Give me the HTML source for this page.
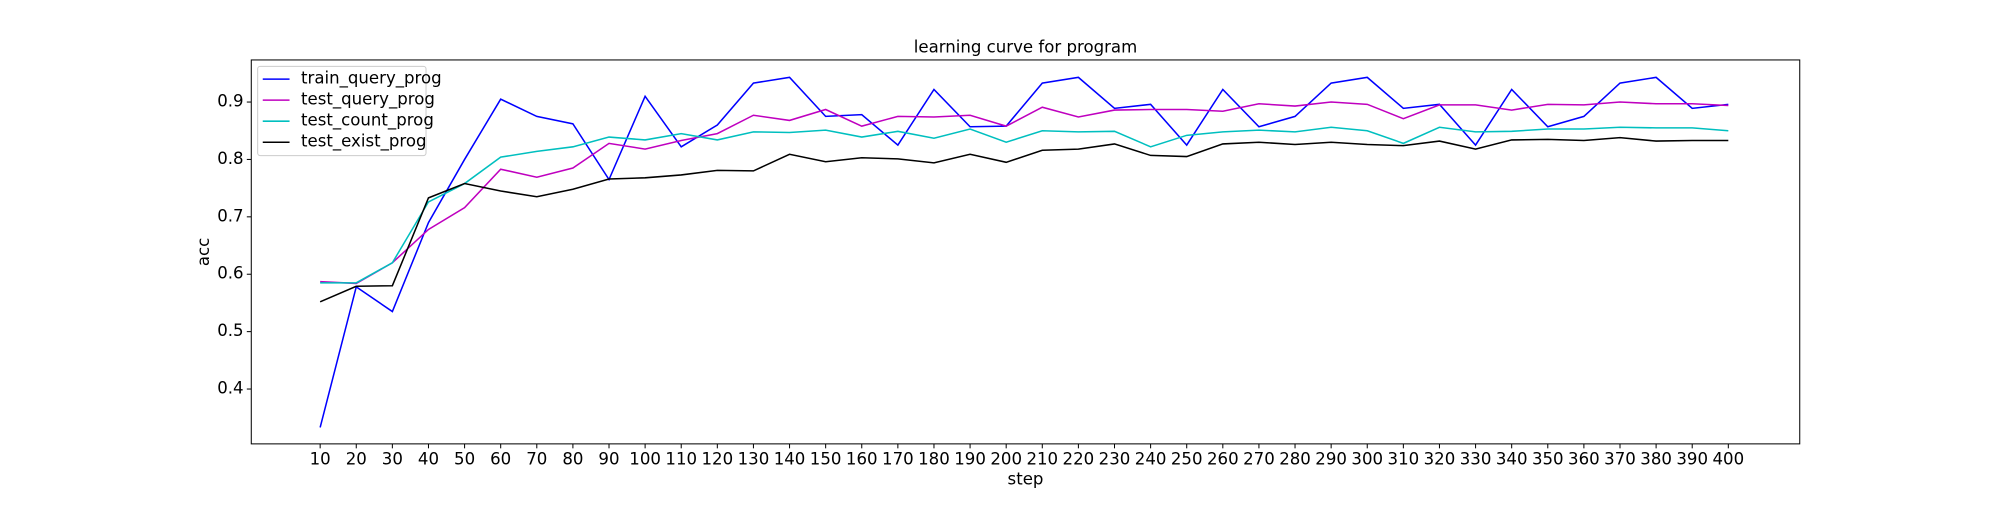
<!DOCTYPE html>
<html><head><meta charset="utf-8"><style>
body{margin:0;background:#fff;width:2000px;height:500px;overflow:hidden}
svg text{font-family:"DejaVu Sans","Liberation Sans",sans-serif;font-size:13px;fill:#000}
</style></head><body>
<svg id="chart" width="2000" height="500" viewBox="0 0 1568 392" preserveAspectRatio="none" xmlns="http://www.w3.org/2000/svg">
<rect width="1568" height="392" fill="#fff"/>
<g id="plot"></g>
</svg>
<script>
const steps=[10,20,30,40,50,60,70,80,90,100,110,120,130,140,150,160,170,180,190,200,210,220,230,240,250,260,270,280,290,300,310,320,330,340,350,360,370,380,390,400];
const trainQuery=[0.333,0.578,0.535,0.69,0.80,0.905,0.875,0.862,0.765,0.91,0.822,0.86,0.933,0.943,0.875,0.878,0.825,0.922,0.857,0.858,0.933,0.943,0.889,0.896,0.825,0.922,0.857,0.875,0.933,0.943,0.889,0.896,0.825,0.922,0.857,0.875,0.933,0.943,0.889,0.896];
const testQuery=[0.587,0.584,0.62,0.678,0.716,0.783,0.769,0.785,0.828,0.818,0.833,0.845,0.877,0.868,0.887,0.858,0.875,0.874,0.877,0.858,0.891,0.874,0.886,0.887,0.887,0.884,0.897,0.893,0.9,0.896,0.871,0.895,0.895,0.886,0.896,0.895,0.9,0.897,0.897,0.894];
const testCount=[0.585,0.585,0.62,0.726,0.758,0.804,0.814,0.822,0.839,0.834,0.845,0.834,0.848,0.847,0.851,0.839,0.849,0.837,0.853,0.830,0.850,0.848,0.849,0.822,0.842,0.848,0.851,0.848,0.856,0.850,0.828,0.856,0.848,0.849,0.853,0.853,0.856,0.855,0.855,0.850];
const testExist=[0.552,0.579,0.580,0.733,0.758,0.745,0.735,0.748,0.766,0.768,0.773,0.781,0.780,0.809,0.796,0.803,0.801,0.794,0.809,0.795,0.816,0.818,0.827,0.807,0.805,0.827,0.830,0.826,0.830,0.826,0.824,0.832,0.818,0.834,0.835,0.833,0.838,0.832,0.833,0.833];
const yTicks=[0.4,0.5,0.6,0.7,0.8,0.9];
const seriesNames=["train_query_prog","test_query_prog","test_count_prog","test_exist_prog"];
const seriesColors=["#0000ff","#bf00bf","#00bfbf","#000000"];

const L=197,R=1411,T=47,B=348;
const xs=v=>251+(v-10)*(1355-251)/390;
const ys=v=>80+(0.9-v)*450;
const NS="http://www.w3.org/2000/svg";
const g=document.getElementById('plot');
function mk(t,a,p){const e=document.createElementNS(NS,t);for(const k in a)e.setAttribute(k,a[k]);(p||g).appendChild(e);return e;}

const frame=mk('rect',{x:L,y:T,width:R-L,height:B-T,fill:'none',stroke:'#000','stroke-width':0.8});



steps.forEach(s=>{
  const x=xs(s);
  const t=mk('line',{x1:x,x2:x,y1:B,y2:B+3.5,stroke:'#000','stroke-width':0.8});
  
  
  const l=mk('text',{x:x,y:B+16,'text-anchor':'middle','font-size':'9'});l.textContent=s;
  
  
});
yTicks.forEach(v=>{
  const y=ys(v);
  const t=mk('line',{x1:L-3.5,x2:L,y1:y,y2:y,stroke:'#000','stroke-width':0.8});
  
  
  const l=mk('text',{x:L-6,y:y+3.5,'text-anchor':'end','font-size':'9'});l.textContent=v.toFixed(1);
  
  
});
const title=mk('text',{x:(L+R)/2,y:41,'text-anchor':'middle','font-size':'12.5'});title.textContent='learning curve for program';


const xl=mk('text',{x:(L+R)/2,y:380,'text-anchor':'middle','font-size':'9'});xl.textContent='step';


const yl=mk('text',{x:0,y:0,'text-anchor':'middle','font-size':'9',transform:`translate(164,${(T+B)/2}) rotate(-90)`});yl.textContent='acc';



[trainQuery,testQuery,testCount,testExist].forEach((arr,i)=>{
  const p=mk('polyline',{points:arr.map((v,j)=>xs(steps[j])+','+ys(v)).join(' '),fill:'none',stroke:seriesColors[i],'stroke-width':1.2});
  
  
});

const lg=mk('g',{});


mk('rect',{x:202,y:52,width:132,height:70,rx:2,fill:'#fff','fill-opacity':0.8,stroke:'#ccc','stroke-width':0.8},lg);
seriesNames.forEach((n,i)=>{
  const y=62+i*16.5;
  const ln=mk('line',{x1:206,x2:227,y1:y,y2:y,stroke:seriesColors[i],'stroke-width':1.2},lg);
  
  
  const t=mk('text',{x:236,y:y+3.5,'font-size':'9'},lg);t.textContent=n;
  
  
});
</script>
</body></html>
